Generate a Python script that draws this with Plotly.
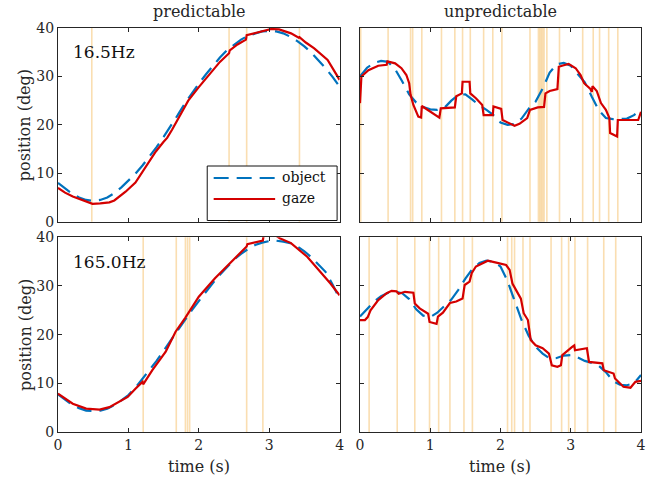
import plotly.graph_objects as go

# ---------------- data ----------------
obj_t = [round(i * 0.1, 1) for i in range(41)]

tl_obj = [8.0, 6.9, 5.8, 5.0, 4.5, 4.3, 4.5, 5.0, 5.9, 7.1, 8.4, 9.9, 11.6, 13.4, 15.4, 17.5,
          19.7, 22.0, 24.4, 26.5, 28.5, 30.4, 32.2, 33.9, 35.4, 36.6, 37.6, 38.4, 38.9, 39.3,
          39.4, 39.3, 38.9, 38.2, 37.3, 36.2, 34.9, 33.4, 31.7, 29.9, 27.9]
tl_gaze_t = [0.00, 0.10, 0.21, 0.35, 0.47, 0.49, 0.60, 0.73, 0.80, 0.96, 1.10, 1.25, 1.39, 1.50,
             1.55, 1.62, 1.74, 1.85, 2.00, 2.18, 2.30, 2.43, 2.44, 2.55, 2.67, 2.68, 2.80, 2.94,
             3.03, 3.14, 3.31, 3.42, 3.43, 3.52, 3.64, 3.83, 4.00]
tl_gaze_v = [7.0, 6.0, 5.2, 4.5, 3.9, 3.7, 3.8, 4.0, 4.4, 6.2, 8.1, 11.4, 14.5, 16.5,
             17.3, 19.0, 22.2, 25.0, 27.8, 31.0, 33.0, 34.8, 35.4, 36.6, 37.6, 38.5, 39.0, 39.5,
             39.8, 39.7, 38.9, 38.0, 38.1, 37.0, 35.8, 33.4, 29.3]

tr_obj = [30.0, 31.8, 32.8, 33.2, 33.0, 31.5, 29.0, 26.3, 24.6, 23.7, 23.2, 23.1, 23.5, 25.0,
          26.2, 26.3, 25.2, 24.0, 23.1, 22.0, 20.5, 20.0, 20.2, 21.3, 23.3, 24.8, 27.5, 30.8,
          32.5, 32.8, 32.2, 30.6, 28.8, 25.8, 23.0, 21.4, 21.2, 21.2, 21.3, 22.0, 23.2]
tr_gaze_t = [0.00, 0.02, 0.12, 0.26, 0.38, 0.39, 0.50, 0.59, 0.66, 0.70, 0.72, 0.76, 0.83, 0.87,
             0.88, 1.00, 1.13, 1.15, 1.35, 1.37, 1.45, 1.46, 1.56, 1.57, 1.65, 1.74, 1.76, 1.89,
             1.90, 2.01, 2.03, 2.20, 2.27, 2.38, 2.42, 2.53, 2.62, 2.64, 2.70, 2.81, 2.83, 2.90,
             2.97, 3.07, 3.14, 3.19, 3.28, 3.30, 3.31, 3.37, 3.43, 3.50, 3.55, 3.56, 3.66, 3.67,
             3.91, 3.96, 4.00]
tr_gaze_v = [24.5, 30.0, 31.3, 32.2, 32.4, 33.1, 32.7, 31.7, 30.3, 28.6, 26.2, 24.1, 21.7, 21.5,
             23.9, 22.8, 21.5, 23.4, 23.6, 25.9, 26.5, 28.9, 28.9, 26.5, 25.5, 24.1, 22.0, 22.0,
             23.8, 23.3, 21.0, 19.8, 20.2, 21.4, 23.1, 23.6, 23.7, 26.5, 27.0, 27.4, 32.0, 32.3,
             32.6, 31.7, 30.3, 28.6, 27.4, 26.8, 28.0, 27.0, 24.5, 23.1, 21.4, 18.3, 17.6, 21.0,
             21.0, 21.0, 22.7]

bl_obj = [7.7, 6.6, 5.6, 4.9, 4.4, 4.3, 4.4, 4.8, 5.5, 6.5, 7.6, 9.1, 10.9, 12.7, 14.6, 16.7,
          18.8, 20.9, 23.0, 25.0, 26.9, 28.8, 30.6, 32.3, 33.9, 35.4, 36.6, 37.6, 38.4, 38.9,
          39.2, 39.3, 39.1, 38.8, 38.1, 37.1, 35.9, 34.5, 32.9, 30.3, 27.4]
bl_gaze_t = [0.00, 0.21, 0.40, 0.59, 0.73, 0.87, 0.99, 1.10, 1.20, 1.21, 1.34, 1.53, 1.67, 1.81,
             2.00, 2.23, 2.46, 2.68, 2.69, 2.91, 2.92, 3.10, 3.15, 3.31, 3.54, 3.73, 3.87, 4.00]
bl_gaze_v = [7.9, 5.8, 4.8, 4.6, 5.1, 6.3, 7.2, 8.9, 10.3, 9.8, 12.7, 16.5, 20.6, 23.5,
             27.8, 31.6, 35.0, 38.1, 38.6, 39.3, 40.3, 40.3, 39.8, 38.8, 36.0, 32.9, 30.5, 28.1]

br_obj = [23.7, 25.2, 26.8, 27.9, 28.6, 28.8, 28.5, 27.3, 25.2, 23.9, 23.6, 24.5, 25.8, 27.2,
          29.2, 31.5, 33.5, 34.7, 35.2, 35.0, 34.0, 31.0, 27.0, 23.0, 19.8, 17.5, 16.1, 15.1,
          15.2, 15.7, 15.8, 15.3, 14.6, 14.2, 13.6, 12.3, 10.5, 9.7, 9.6, 10.0, 11.7]
br_gaze_t = [0.00, 0.07, 0.11, 0.15, 0.26, 0.38, 0.45, 0.52, 0.55, 0.64, 0.76, 0.78, 0.85, 0.97,
             0.99, 1.09, 1.11, 1.18, 1.28, 1.37, 1.46, 1.49, 1.56, 1.59, 1.65, 1.82, 1.94, 2.08,
             2.13, 2.17, 2.22, 2.29, 2.33, 2.39, 2.43, 2.50, 2.60, 2.69, 2.73, 2.81, 2.86, 2.88,
             3.02, 3.05, 3.06, 3.16, 3.23, 3.26, 3.45, 3.47, 3.61, 3.63, 3.75, 3.85, 3.92, 4.00]
br_gaze_v = [23.0, 23.0, 23.6, 25.0, 27.1, 28.5, 29.0, 28.9, 28.4, 28.8, 28.6, 26.4, 25.4, 24.3,
             22.6, 22.2, 23.7, 24.5, 26.5, 26.8, 27.4, 30.2, 30.9, 32.6, 34.0, 35.2, 34.8, 34.3,
             33.3, 30.5, 29.2, 27.4, 24.4, 23.0, 18.9, 17.8, 17.2, 16.1, 13.7, 13.4, 13.7, 15.8,
             17.5, 17.8, 16.8, 17.1, 17.2, 14.4, 14.1, 12.7, 12.0, 11.0, 9.3, 9.1, 10.3, 10.5]

tl_events = [0.48, 2.43, 2.68, 3.43]
tr_events = [0.01, 0.40, 0.72, 0.75, 0.88, 1.16, 1.35, 1.46, 1.57, 1.76, 1.89, 2.02, 2.42,
             2.54, 2.56, 2.58, 2.60, 2.62, 2.66, 2.84, 3.17, 3.32, 3.41, 3.54, 3.67]
bl_events = [1.21, 1.68, 1.81, 1.84, 1.87, 2.68, 2.91]
br_events = [0.13, 0.53, 0.78, 0.99, 1.12, 1.28, 1.48, 1.60, 2.10, 2.16, 2.20, 2.32, 2.42,
             2.72, 2.87, 2.97, 3.06, 3.24, 3.47, 3.64]

series_names = ["object", "gaze"]
panel_labels = ["16.5Hz", "165.0Hz"]
column_titles = ["predictable", "unpredictable"]
x_title = "time (s)"
y_title = "position (deg)"
x_ticks = [0, 1, 2, 3, 4]
y_ticks = [0, 10, 20, 30, 40]

# ---------------- figure ----------------
FONT = "DejaVu Serif, Liberation Serif, serif"
BLUE = "#0072BD"
RED = "#D40000"
EVENT = "rgba(245,190,100,0.5)"
AX = "#262626"
DASH = "15px,8px"

panels = [
    ("x", "y", tl_obj, tl_gaze_t, tl_gaze_v, tl_events),
    ("x2", "y2", tr_obj, tr_gaze_t, tr_gaze_v, tr_events),
    ("x3", "y3", bl_obj, bl_gaze_t, bl_gaze_v, bl_events),
    ("x4", "y4", br_obj, br_gaze_t, br_gaze_v, br_events),
]

fig = go.Figure()
shapes = []
for i, (xa, ya, ov, gt, gv, ev) in enumerate(panels):
    for e in ev:
        shapes.append(dict(type="line", xref=xa, yref=ya + " domain", x0=e, x1=e, y0=0, y1=1,
                           line=dict(color=EVENT, width=1.6), layer="below"))
    fig.add_trace(go.Scatter(x=obj_t, y=ov, xaxis=xa, yaxis=ya, mode="lines",
                             name=series_names[0], showlegend=False,
                             line=dict(color=BLUE, width=2.2, dash=DASH)))
    fig.add_trace(go.Scatter(x=gt, y=gv, xaxis=xa, yaxis=ya, mode="lines",
                             name=series_names[1], showlegend=False,
                             line=dict(color=RED, width=2.2)))

xl = [0, 0.483]
xr = [0.518, 1]
yt = [0.5205, 1]
yb = [0, 0.482]

def xax(domain, anchor, labels):
    return dict(domain=domain, anchor=anchor, range=[0, 4], tickvals=x_ticks,
                showticklabels=labels, ticks="inside", ticklen=4, tickcolor=AX,
                showline=True, linecolor=AX, linewidth=1, mirror="allticks",
                showgrid=False, zeroline=False,
                tickfont=dict(family=FONT, size=14, color=AX))

def yax(domain, anchor, labels):
    return dict(domain=domain, anchor=anchor, range=[0, 40], tickvals=y_ticks,
                showticklabels=labels, ticks="inside", ticklen=4, tickcolor=AX,
                showline=True, linecolor=AX, linewidth=1, mirror="allticks",
                showgrid=False, zeroline=False,
                tickfont=dict(family=FONT, size=14, color=AX))

def px(xp):
    return (xp - 58) / 588

def py(yp):
    return (432 - yp) / 404

tfont = dict(family=FONT, size=16, color=AX)
annotations = [
    dict(text=column_titles[0], x=sum(xl) / 2, y=py(12), xref="paper", yref="paper",
         showarrow=False, xanchor="center", yanchor="middle", font=tfont),
    dict(text=column_titles[1], x=sum(xr) / 2, y=py(12), xref="paper", yref="paper",
         showarrow=False, xanchor="center", yanchor="middle", font=tfont),
    dict(text=y_title, x=px(25), y=sum(yt) / 2, xref="paper", yref="paper", textangle=-90,
         showarrow=False, xanchor="center", yanchor="middle", font=tfont),
    dict(text=y_title, x=px(25), y=sum(yb) / 2, xref="paper", yref="paper", textangle=-90,
         showarrow=False, xanchor="center", yanchor="middle", font=tfont),
    dict(text=x_title, x=sum(xl) / 2, y=py(466), xref="paper", yref="paper",
         showarrow=False, xanchor="center", yanchor="middle", font=tfont),
    dict(text=x_title, x=sum(xr) / 2, y=py(466), xref="paper", yref="paper",
         showarrow=False, xanchor="center", yanchor="middle", font=tfont),
    dict(text=panel_labels[0], x=0.045, y=0.876, xref="x domain", yref="y domain",
         showarrow=False, xanchor="left", yanchor="middle",
         font=dict(family=FONT, size=17, color="#111111")),
    dict(text=panel_labels[1], x=0.045, y=0.874, xref="x3 domain", yref="y3 domain",
         showarrow=False, xanchor="left", yanchor="middle",
         font=dict(family=FONT, size=17, color="#111111")),
]

# legend box (drawn inside the top-left panel)
shapes += [
    dict(type="rect", xref="paper", yref="paper", x0=px(208.5), x1=px(339.5),
         y0=py(220.5), y1=py(166), fillcolor="white", line=dict(color="#111111", width=1),
         layer="above"),
    dict(type="line", xref="paper", yref="paper", x0=px(215), x1=px(278),
         y0=py(178), y1=py(178), line=dict(color=BLUE, width=2.2, dash=DASH), layer="above"),
    dict(type="line", xref="paper", yref="paper", x0=px(215), x1=px(277),
         y0=py(199), y1=py(199), line=dict(color=RED, width=2.2), layer="above"),
]
annotations += [
    dict(text=series_names[0], x=px(282), y=py(177), xref="paper", yref="paper",
         showarrow=False, xanchor="left", yanchor="middle",
         font=dict(family=FONT, size=14, color="#111111")),
    dict(text=series_names[1], x=px(282), y=py(198), xref="paper", yref="paper",
         showarrow=False, xanchor="left", yanchor="middle",
         font=dict(family=FONT, size=14, color="#111111")),
]

fig.update_layout(
    width=647, height=482,
    margin=dict(l=58, r=1, t=28, b=50),
    paper_bgcolor="white", plot_bgcolor="white",
    xaxis=xax(xl, "y", False), yaxis=yax(yt, "x", True),
    xaxis2=xax(xr, "y2", False), yaxis2=yax(yt, "x2", False),
    xaxis3=xax(xl, "y3", True), yaxis3=yax(yb, "x3", True),
    xaxis4=xax(xr, "y4", True), yaxis4=yax(yb, "x4", False),
    shapes=shapes, annotations=annotations,
    showlegend=False,
)

fig.write_html("out.html")
